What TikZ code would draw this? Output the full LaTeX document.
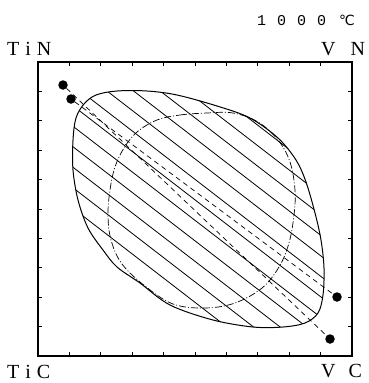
\documentclass[tikz,border=0pt]{standalone}
\usepackage{fontspec}
\setmainfont{Liberation Serif}
\newfontfamily\symfont{DejaVu Sans}
\newfontfamily\monofont{Liberation Mono}

\begin{document}
\begin{tikzpicture}[x=1pt,y=-1pt,
    dot/.style={circle,fill,inner sep=0pt,minimum size=9.5pt},
    tieline/.style={line width=0.7pt,dash pattern=on 5pt off 4pt},
    spinodal/.style={line width=0.7pt,dash pattern=on 7pt off 2pt on 1pt off 2pt},
    hatch/.style={line width=0.8pt},
    corner/.style={font=\fontsize{20}{20}\selectfont,inner sep=0pt,anchor=base west}]
    \useasboundingbox (0,0) rectangle (369,383);

    % frame and ticks
    \draw[line width=1.5pt] (38,62) rectangle (352,356);
    \foreach \k in {1,...,9} {
        \draw[line width=0.8pt] ({38+31.4*\k},62) -- ++(0,4);
        \draw[line width=0.8pt] ({38+31.4*\k},356) -- ++(0,-4);
        \draw[line width=0.8pt] (38,{62+29.4*\k}) -- ++(4,0);
        \draw[line width=0.8pt] (352,{62+29.4*\k}) -- ++(-4,0);
    }

    % two-phase region
    \path[save path=\envpath] plot[smooth cycle,tension=0.55] coordinates {
        (84,104) (96,95) (117,91) (147,91) (177,95) (217,106) (250,118)
        (278,138) (296,160) (306,182) (315,213) (321,240) (324,268)
        (323,295) (318,313) (305,323) (283,327) (253,327) (213,320)
        (170,305) (140,283) (117,267) (103,250) (88,228) (78,200)
        (73,170) (73,140) (76,118)};
    \begin{scope}
        \clip[use path=\envpath];
        \foreach \c in {152,131.5,...,-74}
            \draw[hatch] (40,{0.771*40+\c}) -- (350,{0.771*350+\c});
    \end{scope}
    \draw[line width=1pt,use path=\envpath];

    % spinodal
    \draw[spinodal] plot[smooth cycle,tension=0.6] coordinates {
        (157,120) (180,115) (207,113) (233,113) (258,122) (278,140)
        (290,162) (295,190) (294,215) (289,243) (279,267) (262,288)
        (235,303) (205,308) (173,304) (145,286) (122,264) (111,240)
        (108,215) (110,190) (115,167) (124,148) (137,132)};

    % tie lines
    \node[dot] (tn1) at (63,85) {};
    \node[dot] (tn2) at (71,99) {};
    \node[dot] (vc1) at (337,297) {};
    \node[dot] (vc2) at (330,339) {};
    \draw[tieline] (tn1) -- (vc2);
    \draw[tieline] (tn2) -- (vc1);

    % labels
    \node[corner] (tin) at (7,55) {T\hspace{6pt}i\hspace{6pt}N};
    \node[corner] (vn) at (321,55) {V\hspace{15pt}N};
    \node[corner] (tic) at (7,378) {T\hspace{6pt}i\hspace{6pt}C};
    \node[corner] (vcl) at (321,377) {V\hspace{13pt}C};
    \node[inner sep=0pt,anchor=base west] (temp) at (257,25)
        {\monofont\fontsize{15}{15}\selectfont 1\hspace{11pt}0\hspace{11pt}0\hspace{11pt}0\hspace{13pt}{\symfont\fontsize{14}{14}\selectfont ℃}};
\end{tikzpicture}
\end{document}
